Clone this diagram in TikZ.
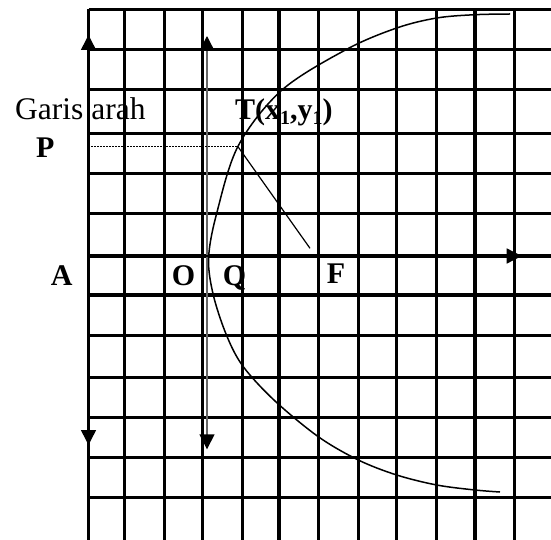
\documentclass[tikz,border=0pt]{standalone}
\usepackage{fontspec}
\setmainfont{Liberation Serif}
\usetikzlibrary{arrows.meta}
\tikzset{
  gridline/.style={line width=3.3pt},
  lbl/.style={anchor=base west, inner sep=0pt, font=\fontsize{30}{36}\selectfont\bfseries},
  plainlbl/.style={anchor=base west, inner sep=0pt, font=\fontsize{31.5}{36}\selectfont},
  bigarrow/.style={line width=1.5pt, {Triangle[length=15pt,width=15pt,color=black]}-{Triangle[length=15pt,width=15pt,color=black]}},
  onearrow/.style={line width=1.5pt, -{Triangle[length=15pt,width=15pt]}},
  curve/.style={line width=1.5pt},
  thinline/.style={line width=1.2pt},
  dashline/.style={line width=1pt, dash pattern=on 2pt off 1pt}
}
\begin{document}
\begin{tikzpicture}[x=1pt,y=-1pt]
\useasboundingbox (0,0) rectangle (551,540);
% grid
\foreach \gx in {88.5,124.5,164.3,202.7,242.3,279,318.3,358.3,396.7,436.7,475,514.3}
  \draw[gridline] (\gx,9.3) -- (\gx,540);
\foreach \gy in {9.3,49.3,89.3,133.3,173.3,213.3,256,295,335.7,377.3,417.3,457.7,497.7}
  \draw[gridline] (88.5,\gy) -- (551,\gy);
% coordinates
\coordinate (Atop) at (88.5,35);
\coordinate (Abot) at (88.5,445);
\coordinate (Otop) at (207,36);
\coordinate (Obot) at (207,449.3);
\coordinate (Xstart) at (88.5,256);
\coordinate (Xend) at (521.7,256);
\coordinate (Pstart) at (91,146.7);
\coordinate (T) at (238,146.7);
\coordinate (Fend) at (310,248.3);
% axes arrows
\draw[bigarrow] (Abot) -- (Atop);
\draw[bigarrow, draw=black!60] (Obot) -- (Otop);
\draw[onearrow] (Xstart) -- (Xend);
% curve
\draw[curve] plot[smooth, tension=0.55] coordinates {
  (510,14) (475,14.7) (436.7,18) (396.7,28) (346.7,49.3) (282,90)
  (238.3,145.7) (216.7,213.3) (208.6,258)
  (213.3,295) (226.7,335.7) (243.3,366.7) (275,401) (318.3,436.7)
  (358.3,460) (396.7,475) (436.7,485) (475,490) (500,492)};
% guide lines
\draw[dashline] (Pstart) -- (T);
\draw[thinline] (T) -- (Fend);
% labels
\node[plainlbl] (garis) at (15,119.3) {Garis arah};
\node[lbl] (tlbl) at (235,120) {T(x\raisebox{-0.14em}{\fontsize{20}{20}\selectfont 1},y\raisebox{-0.14em}{\fontsize{20}{20}\selectfont 1})};
\node[lbl] (plbl) at (36,158) {P};
\node[lbl] (albl) at (50.7,285) {A};
\node[lbl] (olbl) at (171.7,285) {O};
\node[lbl] (qlbl) at (222.7,285) {Q};
\node[lbl] (flbl) at (326.7,283.3) {F};
\end{tikzpicture}
\end{document}
